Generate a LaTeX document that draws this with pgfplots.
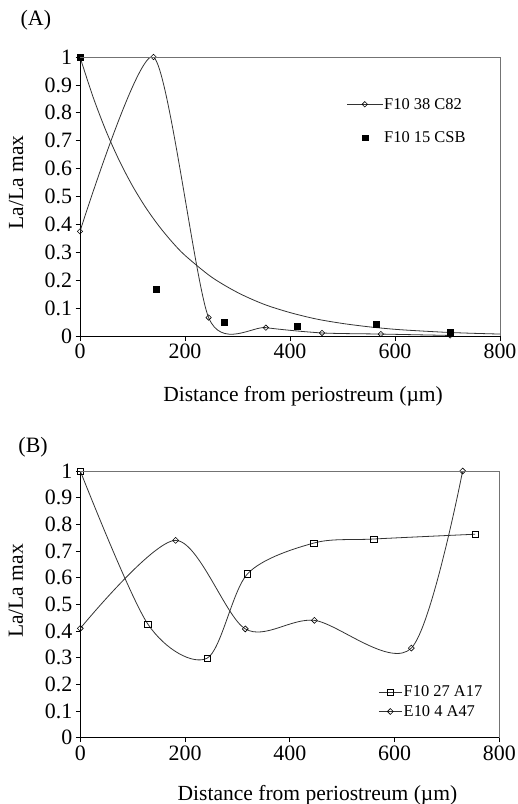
\documentclass[border=0pt]{standalone}
\usepackage{fontspec}
\setmainfont{Liberation Serif}
\usepackage{pgfplots}
\pgfplotsset{compat=1.18}
\pgfplotsset{
  myaxis/.style={
    scale only axis,
    xmin=0, xmax=800, ymin=0, ymax=1,
    axis x line*=bottom, axis y line*=left,
    axis line style={-, black, line width=0.9bp},
    xtick={0,200,400,600,800},
    ytick={0,0.1,0.2,0.3,0.4,0.5,0.6,0.7,0.8,0.9,1},
    yticklabel style={/pgf/number format/fixed,/pgf/number format/precision=1},
    /pgf/number format/assume math mode=true,
    tick align=outside,
    major tick length=4.5bp,
    tick style={black, line width=0.7bp},
    tick label style={font=\fontsize{22}{26}\selectfont},
    label style={font=\fontsize{21.6}{26}\selectfont},
    ylabel={La/La max},
    xlabel={Distance from periostreum (µm)},
    legend cell align=left,
  },
  curve/.style={smooth, tension=0.5, black!80, line width=0.8bp, mark options={solid, black, fill=white, line width=0.6bp}},
  dmd/.style={mark=square, mark options={solid, black, fill=white, line width=0.6bp, rotate=45}},
}
\begin{document}
\begin{tikzpicture}[x=1bp,y=1bp]
\useasboundingbox (0,0) rectangle (518,-804);

% ---------- Panel A ----------
\begin{axis}[myaxis, name=A,
  at={(80bp,-336bp)}, anchor=south west,
  width=420bp, height=279bp,
  xlabel style={at={(axis description cs:0.531,-0.233)}, anchor=base},
  ylabel style={at={(axis description cs:-0.1357,0.55)}, anchor=base},
  legend style={draw=none, fill=none, inner sep=0pt,
    at={(axis description cs:0.635,0.7706)}, anchor=west,
    font=\fontsize{16.5}{20}\selectfont, row sep=18bp,
    nodes={inner sep=1.5bp}},
  legend image code/.code={\draw[mark repeat=2,mark phase=2,#1] plot coordinates {(0,0) (17.5bp,0) (35bp,0)};},
]
\addplot[curve, tension=0.42, dmd, mark size=1.9bp]
  coordinates {(0,0.375) (140,1.0) (245,0.066) (354,0.030) (461,0.011) (573,0.007) (705,0.002)};
\addlegendentry{F10 38 C82}
\addplot[only marks, mark=square*, mark size=2.9bp, mark options={black, fill=black}]
  coordinates {(0,1) (145,0.167) (275,0.049) (413,0.036) (564,0.041) (705,0.014)};
\addlegendentry{F10 15 CSB}
\addplot[smooth, tension=0.5, black!80, line width=0.8bp, forget plot]
  coordinates {(0,1) (25,0.856) (50,0.733) (75,0.628) (100,0.538) (125,0.461) (150,0.395)
   (175,0.338) (200,0.289) (250,0.212) (300,0.156) (350,0.114) (400,0.084) (450,0.061)
   (500,0.045) (550,0.033) (600,0.024) (650,0.018) (700,0.013) (750,0.0096) (800,0.007)};
\end{axis}
\draw[black!55, line width=0.8bp] (A.north west) -- (A.north east) -- (A.south east);
\node[anchor=base west, font=\fontsize{22}{26}\selectfont, inner sep=0pt] at (20.5,-25.5) {(A)};

% ---------- Panel B ----------
\begin{axis}[myaxis, name=B,
  at={(80.3bp,-737.7bp)}, anchor=south west,
  width=419bp, height=266.7bp,
  xlabel style={at={(axis description cs:0.566,-0.2336)}, anchor=base},
  ylabel style={at={(axis description cs:-0.1368,0.55)}, anchor=base},
  legend style={draw=none, fill=none, inner sep=0pt,
    at={(axis description cs:0.711,0.1348)}, anchor=west,
    font=\fontsize{16.5}{20}\selectfont, row sep=4bp,
    nodes={inner sep=1.5bp}},
  legend image code/.code={\draw[mark repeat=2,mark phase=2,#1] plot coordinates {(0,0) (11.5bp,0) (23bp,0)};},
]
\addplot[curve, mark=square, mark size=3.2bp]
  coordinates {(0,1) (129,0.426) (242,0.298) (319,0.614) (446,0.730) (560,0.745) (754,0.763)};
\addlegendentry{F10 27 A17}
\addplot[curve, dmd, mark size=2.1bp]
  coordinates {(0,0.410) (182,0.740) (315,0.408) (447,0.440) (632,0.336) (730,1.0)};
\addlegendentry{E10 4 A47}
\end{axis}
\draw[black!55, line width=0.8bp] (B.north west) -- (B.north east) -- (B.south east);
\node[anchor=base west, font=\fontsize{22}{26}\selectfont, inner sep=0pt] at (18.3,-452) {(B)};
\end{tikzpicture}
\end{document}
